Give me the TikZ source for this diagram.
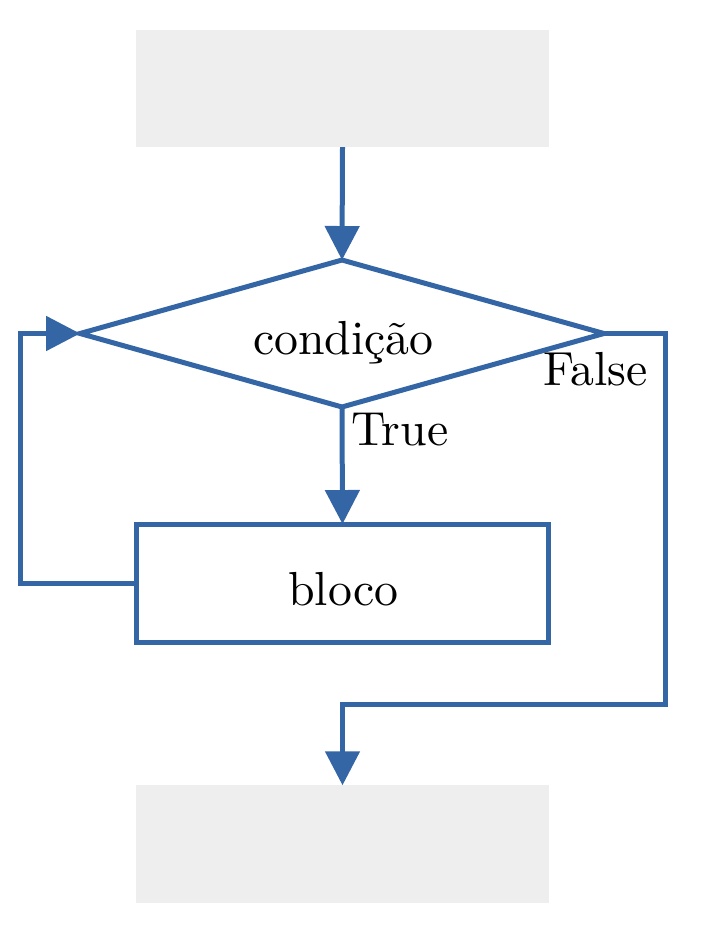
\documentclass[tikz,border=0pt]{standalone}
\usetikzlibrary{shapes.geometric,arrows.meta}
\definecolor{flowblue}{RGB}{52,101,164}
\definecolor{boxgray}{RGB}{238,238,238}
\newcommand{\bigtxt}[1]{\scalebox{2.72}{#1}}
\begin{document}
\begin{tikzpicture}[x=0.02cm,y=-0.02cm,
  flow/.style={draw=flowblue,line width=0.1cm},
  arr/.style={flow,-{Triangle[width=0.68cm,length=0.68cm]}},
  graybox/.style={fill=boxgray,minimum width=8.26cm,minimum height=2.35cm,inner sep=0pt,outer sep=0pt},
  decision/.style={flow,shape=diamond,minimum width=10.48cm,minimum height=2.94cm,aspect=3.56,inner sep=0pt,outer sep=0pt},
  process/.style={flow,rectangle,minimum width=8.26cm,minimum height=2.38cm,inner sep=0pt,outer sep=0pt},
  txt/.style={anchor=base,inner sep=0pt,text=black}
]
\useasboundingbox (0,0) rectangle (709,945);
\node[graybox] (start) at (342.5,88.5) {};
\node[decision] (cond) at (342,333.5) {};
\node[txt] (condtxt) at (343.5,355) {\bigtxt{condição}};
\node[process] (bloco) at (342.5,583.5) {};
\node[txt] (blocotxt) at (343.5,605) {\bigtxt{bloco}};
\node[graybox] (end) at (342.5,844) {};
\node[txt,anchor=base west] (truelbl) at (351,445) {\bigtxt{True}};
\node[txt,anchor=base west] (falselbl) at (543,385) {\bigtxt{False}};
\coordinate (loopL) at (20,583.5);
\coordinate (fr) at (665,333.5);
\coordinate (fb) at (665,704);
\draw[arr] (start.south) -- (cond.north);
\draw[arr] (cond.south) -- (bloco.north);
\draw[arr] (bloco.west) -- (loopL) |- (cond.west);
\draw[arr] (cond.east) -- (fr) -- (fb) -| (end.north);
\end{tikzpicture}
\end{document}
